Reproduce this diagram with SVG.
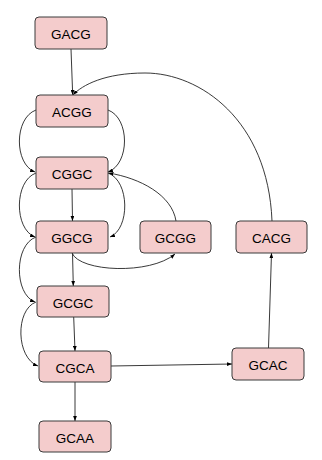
<svg xmlns="http://www.w3.org/2000/svg" width="322" height="460" viewBox="0 0 322 460">
<style>
.node rect{fill:#f4cccc;stroke:#3a3a3a;stroke-width:1}
.node text{font-family:"Liberation Sans",Arial,sans-serif;font-size:13.5px;fill:#000;text-anchor:middle}
.edges path{fill:none;stroke:#222;stroke-width:0.9;marker-end:url(#ah)}
</style>
<defs>
<marker id="ah" viewBox="0 0 8 6" refX="8" refY="3" markerWidth="5" markerHeight="4" markerUnits="userSpaceOnUse" orient="auto">
<path d="M0,0 L8,3 L0,6 z" fill="#000"/>
</marker>
</defs>
<g class="edges">
<path d="M71,49 L72.7,95"/>
<path d="M272,221 C 268,120 200,73 145,73 C 105,73 82,85 73,95"/>
<path d="M36,110 C 14,118 14,164 35,172"/>
<path d="M108,110 C 130,118 130,164 108,172"/>
<path d="M72,189 L72.5,221"/>
<path d="M36,173 C 14,181 14,229 35,237"/>
<path d="M108,173 C 130,181 130,229 110,237"/>
<path d="M176,221 C 172,195 140,178 108.5,173"/>
<path d="M72,253 C 80,272 150,275 175,254"/>
<path d="M72.5,253 L73.3,286"/>
<path d="M36,237 C 14,245 14,294 35,302"/>
<path d="M73.7,317 L75,351"/>
<path d="M36,302 C 15,310 16,358 38,366"/>
<path d="M75,382 L75,421"/>
<path d="M111,366 L232,364"/>
<path d="M268.5,348 L271.5,253"/>
</g>
<g id="GACG" class="node"><rect x="35" y="17" width="72" height="32" rx="4"/><text x="71" y="39">GACG</text></g>
<g id="ACGG" class="node"><rect x="36" y="95" width="72" height="32" rx="4"/><text x="72" y="117">ACGG</text></g>
<g id="CGGC" class="node"><rect x="36" y="157" width="72" height="32" rx="4"/><text x="72" y="179">CGGC</text></g>
<g id="GGCG" class="node"><rect x="36" y="221" width="72" height="32" rx="4"/><text x="72" y="243">GGCG</text></g>
<g id="GCGG" class="node"><rect x="140" y="221" width="71" height="32" rx="4"/><text x="175.5" y="243">GCGG</text></g>
<g id="CACG" class="node"><rect x="236" y="221" width="71" height="32" rx="4"/><text x="271.5" y="243">CACG</text></g>
<g id="GCGC" class="node"><rect x="37" y="286" width="72" height="31" rx="4"/><text x="73" y="307.5">GCGC</text></g>
<g id="CGCA" class="node"><rect x="39" y="351" width="72" height="31" rx="4"/><text x="75" y="372.5">CGCA</text></g>
<g id="GCAC" class="node"><rect x="232" y="348" width="72" height="32" rx="4"/><text x="268" y="370">GCAC</text></g>
<g id="GCAA" class="node"><rect x="39" y="421" width="72" height="31" rx="4"/><text x="75" y="442.5">GCAA</text></g>
</svg>
